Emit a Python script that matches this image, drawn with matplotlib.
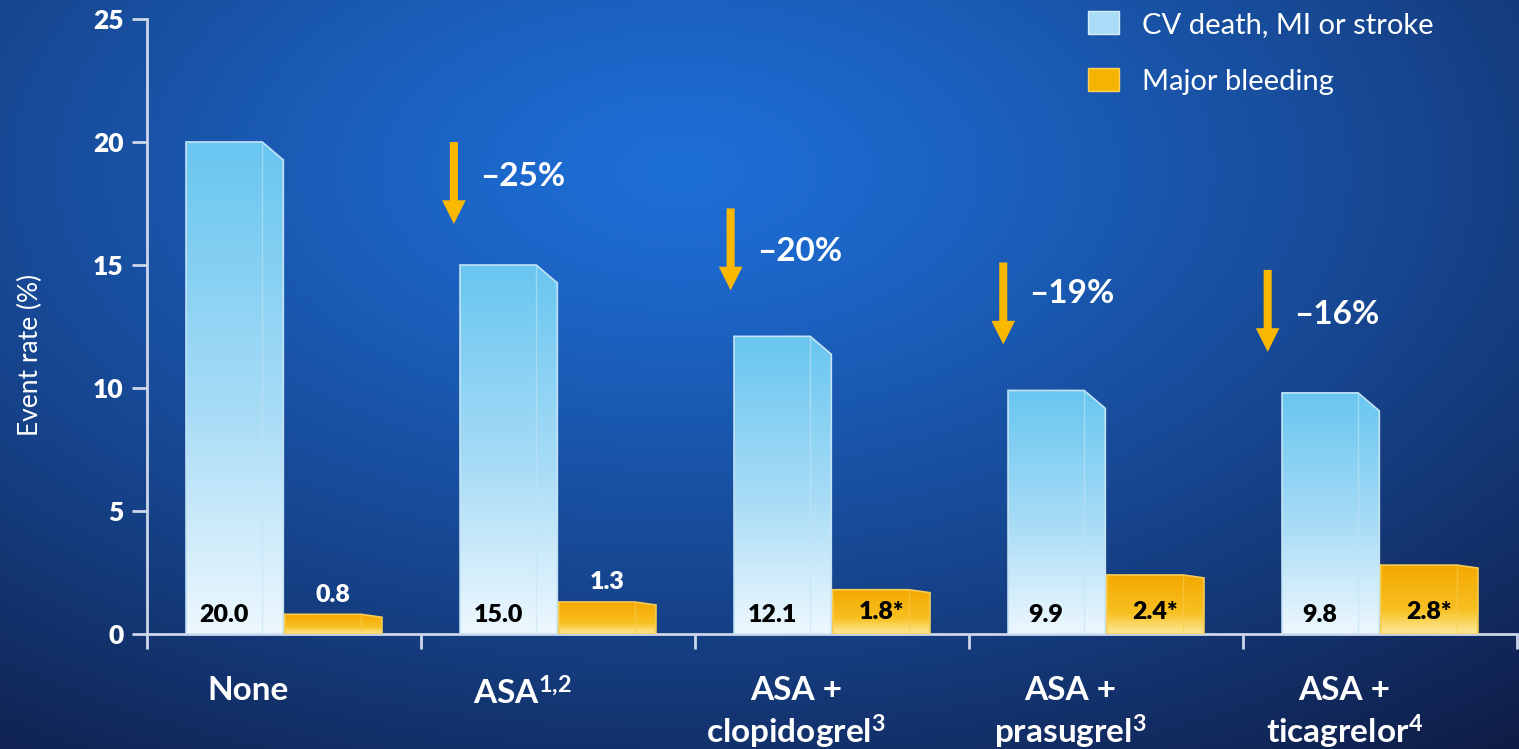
import numpy as np
import matplotlib
matplotlib.use("Agg")
import matplotlib.pyplot as plt
from matplotlib.colors import LinearSegmentedColormap, to_rgb
from matplotlib.patches import Polygon, Patch

plt.rcParams['font.family'] = ['Lato', 'DejaVu Sans']
plt.rcParams['mathtext.default'] = 'regular'

# data
categories = ['None', 'ASA$^{1{,}2}$', 'ASA +\nclopidogrel$^{3}$',
              'ASA +\nprasugrel$^{3}$', 'ASA +\nticagrelor$^{4}$']
cv_events = [20.0, 15.0, 12.1, 9.9, 9.8]
bleeding = [0.8, 1.3, 1.8, 2.4, 2.8]
bleed_labels = ['0.8', '1.3', '1.8*', '2.4*', '2.8*']
reductions = ['\u201325%', '\u201320%', '\u201319%', '\u201316%']
series_names = ['CV death, MI or stroke', 'Major bleeding']

W, H = 1519, 749
fig = plt.figure(figsize=(W / 100, H / 100), dpi=100)

# background: soft elliptical blue glow fading to navy
yy, xx = np.mgrid[0:H, 0:W]
r = np.sqrt(((xx - 680) / 1100.0) ** 2 + ((yy - 170) / 620.0) ** 2)
t = np.clip(r / 1.2, 0, 1) ** 1.2
c0 = np.array(to_rgb('#1e6fd8'))
c1 = np.array(to_rgb('#0f1c45'))
bg_img = c0[None, None, :] * (1 - t[..., None]) + c1[None, None, :] * t[..., None]
bg = fig.add_axes([0, 0, 1, 1])
bg.imshow(bg_img, aspect='auto', extent=[0, W, H, 0])
bg.axis('off')

ax = fig.add_axes([147 / W, 115 / H, 1370 / W, 615 / H])
ax.patch.set_alpha(0)

x = np.arange(len(categories))
bw = 0.355
side = 0.077

blue_cmap = LinearSegmentedColormap.from_list(
    'blue', [(0, '#eef8fe'), (0.45, '#a8dcf6'), (1, '#68c6f0')])
orange_cmap = LinearSegmentedColormap.from_list(
    'orange', [(0, '#fdea9c'), (0.35, '#f8c022'), (1, '#f4a800')])

cv_bars = ax.bar(x - 0.18, cv_events, width=bw, color='none', zorder=2)
bl_bars = ax.bar(x + 0.18, bleeding, width=bw, color='none', zorder=2)


def shade_bar(rect, cmap, drop, edge):
    x0, w, h = rect.get_x(), rect.get_width(), rect.get_height()
    verts = [(x0, 0), (x0, h), (x0 + w - side, h), (x0 + w, h - drop), (x0 + w, 0)]
    poly = Polygon(verts, closed=True, facecolor='none', edgecolor=edge,
                   lw=1.2, zorder=4)
    ax.add_patch(poly)
    grad = np.linspace(0, 1, 256)[:, None]
    im = ax.imshow(grad, extent=[x0, x0 + w, 0, h], origin='lower', cmap=cmap,
                   aspect='auto', zorder=3)
    im.set_clip_path(poly)
    ax.plot([x0 + w - side] * 2, [0, h - drop * 0.1], color=edge, lw=1,
            alpha=0.6, zorder=4)


for rect in cv_bars:
    shade_bar(rect, blue_cmap, 0.73, '#c4e4f5')
for rect in bl_bars:
    shade_bar(rect, orange_cmap, 0.12, '#f9cc55')

# value labels
for rect, v in zip(cv_bars, cv_events):
    ax.text(rect.get_x() + (rect.get_width() - side) / 2, 0.77, f'{v:.1f}',
            ha='center', va='center', fontsize=18, fontweight='heavy',
            color='black', zorder=5)
for rect, v, lab in zip(bl_bars, bleeding, bleed_labels):
    cx = rect.get_x() + rect.get_width() / 2
    if lab.endswith('*'):
        ax.text(cx, 0.9, lab, ha='center', va='center', fontsize=18,
                fontweight='heavy', color='black', zorder=5)
    else:
        ax.text(cx, v + 0.35, lab, ha='center', va='bottom',
                fontsize=18, fontweight='heavy', color='white', zorder=5)

# reduction arrows
arrow_dx = [-0.38, -0.37, -0.375, -0.41]
arrow_top = [20.0, 17.3, 15.1, 14.8]
text_y = [18.58, 15.53, 13.86, 13.0]
for i, lab in enumerate(reductions):
    ax_x = x[i + 1] + arrow_dx[i]
    ax.annotate('', xy=(ax_x, arrow_top[i] - 3.33), xytext=(ax_x, arrow_top[i]),
                arrowprops=dict(width=5.8, headwidth=17, headlength=17, shrink=0,
                                facecolor='#fbb800', edgecolor='none'),
                zorder=5)
    ax.text(ax_x + 0.095, text_y[i], lab, ha='left', va='center', fontsize=24,
            fontweight='bold', color='white', zorder=5)

# category labels
for xi, lab in zip(x, categories):
    ax.text(xi - 0.13, -1.72, lab, ha='center', va='top', fontsize=24,
            fontweight='bold', color='white', linespacing=1.25)

ax.set_xlim(-0.5, 4.5)
ax.set_ylim(0, 25)
ax.set_xticks(np.arange(-0.5, 4.6, 1.0))
ax.set_xticklabels([])
yt = [0, 5, 10, 15, 20, 25]
ax.set_yticks(yt)
ax.set_yticklabels([str(v) for v in yt], fontweight='heavy', fontsize=19,
                   color='white')
spine_col = '#cdd6ea'
ax.tick_params(axis='both', direction='out', length=11, width=2,
               colors=spine_col, pad=6)
ax.tick_params(axis='y', labelcolor='white')
for s in ['top', 'right']:
    ax.spines[s].set_visible(False)
for s in ['left', 'bottom']:
    ax.spines[s].set_color(spine_col)
    ax.spines[s].set_linewidth(2)

ax.set_ylabel('Event rate (%)', fontsize=19, color='white')
ax.yaxis.set_label_coords(-0.076, 0.454)

handles = [Patch(facecolor='#a9dcf6', edgecolor='#d8eefa'),
           Patch(facecolor='#f6b400', edgecolor='#fbd060')]
leg = fig.legend(handles, series_names, loc='upper left',
                 bbox_to_anchor=(1068 / W, 1.012), frameon=False, fontsize=21,
                 labelcolor='white', handlelength=1.05, handleheight=0.8,
                 handletextpad=0.8, labelspacing=1.05, borderaxespad=0.3)

fig.savefig('out.png', dpi=100)
